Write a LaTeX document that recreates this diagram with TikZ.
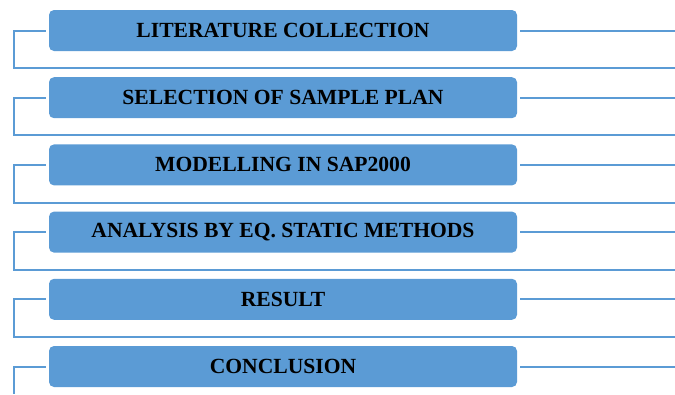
\documentclass[tikz,border=0pt]{standalone}
\usepackage{fontspec}
\setmainfont{Liberation Serif}
\usetikzlibrary{positioning}
\definecolor{stepblue}{HTML}{5B9BD5}
\begin{document}
\begin{tikzpicture}[every node/.style={rectangle,rounded corners=5pt,fill=stepblue,
    minimum width=468pt,minimum height=41pt,inner sep=0pt,
    font=\fontsize{21.6}{25}\selectfont\bfseries},
  node distance=25.8pt,
  link/.style={draw=stepblue,line width=2pt}]
\useasboundingbox (0,0) rectangle (675pt,-394pt);
\coordinate (edge) at (675pt,0);
\coordinate (foot) at (14pt,-394pt);
\node (lit) at (283pt,-30.5pt) {LITERATURE COLLECTION};
\node (sel) [below=of lit] {SELECTION OF SAMPLE PLAN};
\node (mod) [below=of sel] {MODELLING IN SAP2000};
\node (ana) [below=of mod] {ANALYSIS BY EQ. STATIC METHODS};
\node (res) [below=of ana] {RESULT};
\node (con) [below=of res] {CONCLUSION};
% brackets on the left, lines to the right edge
\foreach \n in {lit,sel,mod,ana,res}{
  \draw[link] ([xshift=-3pt]\n.west) -| ([xshift=-35pt,yshift=-17pt]\n.south west)
    -- ([yshift=-17pt]\n.south -| edge);
  \draw[link] ([xshift=3pt]\n.east) -- (\n.east -| edge);
}
\draw[link] ([xshift=-3pt]con.west) -| (foot);
\draw[link] ([xshift=3pt]con.east) -- (con.east -| edge);
\end{tikzpicture}
\end{document}
